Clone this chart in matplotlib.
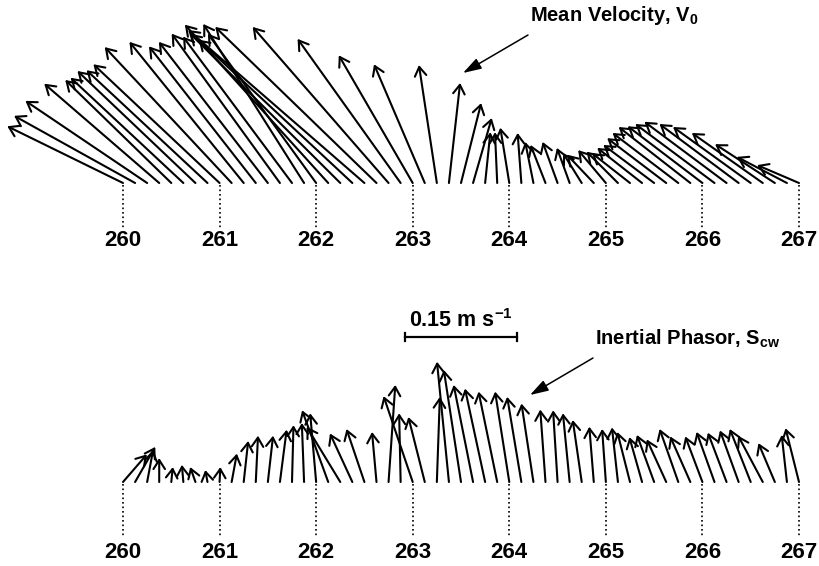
import numpy as np
import matplotlib
matplotlib.use("Agg")
import matplotlib.pyplot as plt
from matplotlib.patches import FancyArrowPatch

plt.rcParams["font.family"] = ["Liberation Sans", "DejaVu Sans"]
plt.rcParams["font.weight"] = "bold"
plt.rcParams["mathtext.fontset"] = "custom"
plt.rcParams["mathtext.rm"] = "Liberation Sans:bold"
plt.rcParams["mathtext.bf"] = "Liberation Sans:bold"
plt.rcParams["mathtext.it"] = "Liberation Sans:bold"

# Dados: dia do ano, um vetor a cada 3 h
days = 260.0 + 0.125 * np.arange(57)
day_ticks = [260, 261, 262, 263, 264, 265, 266, 267]

# Velocidade media V0 (m/s): componentes leste (u) e norte (v)
v0_u = [-0.155, -0.162, -0.163, -0.154, -0.142, -0.151, -0.158, -0.162, -0.169, -0.170,
        -0.153, -0.143, -0.146, -0.145, -0.146, -0.135, -0.145, -0.192, -0.201, -0.206,
        -0.236, -0.216, -0.182, -0.138, -0.099, -0.068, -0.024, 0.015, 0.027, 0.025,
        0.007, -0.003, -0.012, -0.005, -0.011, -0.020, -0.020, -0.017, -0.025, -0.036,
        -0.037, -0.042, -0.051, -0.060, -0.068, -0.079, -0.088, -0.096, -0.100, -0.106,
        -0.110, -0.106, -0.104, -0.095, -0.080, -0.067, -0.056]
v0_v = [0.076, 0.090, 0.110, 0.133, 0.138, 0.141, 0.150, 0.151, 0.159, 0.182,
        0.189, 0.183, 0.189, 0.200, 0.196, 0.213, 0.200, 0.212, 0.200, 0.192,
        0.205, 0.209, 0.209, 0.193, 0.171, 0.159, 0.158, 0.134, 0.107, 0.087,
        0.068, 0.068, 0.074, 0.067, 0.055, 0.051, 0.055, 0.047, 0.040, 0.038,
        0.044, 0.042, 0.040, 0.047, 0.051, 0.060, 0.067, 0.075, 0.076, 0.079,
        0.082, 0.079, 0.075, 0.067, 0.052, 0.035, 0.024]

# Fasor inercial S_cw (m/s)
scw_u = [0.032, 0.027, 0.008, 0.000, 0.002, -0.002, -0.007, -0.003, 0.001, 0.007,
         0.006, 0.003, 0.007, 0.009, 0.002, -0.003, -0.008, -0.035, -0.045, -0.030,
         -0.024, -0.006, 0.009, -0.002, -0.039, -0.022, 0.004, -0.016, -0.023, -0.026,
         -0.027, -0.025, -0.019, -0.019, -0.016, -0.007, -0.006, -0.009, -0.012, -0.006,
         -0.005, -0.008, -0.017, -0.017, -0.023, -0.026, -0.025, -0.027, -0.023, -0.024,
         -0.025, -0.025, -0.028, -0.033, -0.022, -0.007, -0.018]
scw_v = [0.037, 0.047, 0.043, 0.032, 0.020, 0.023, 0.020, 0.016, 0.020, 0.038,
         0.055, 0.062, 0.062, 0.070, 0.076, 0.079, 0.092, 0.096, 0.074, 0.065,
         0.071, 0.067, 0.130, 0.092, 0.115, 0.087, 0.114, 0.161, 0.150, 0.130,
         0.125, 0.121, 0.121, 0.114, 0.105, 0.097, 0.096, 0.092, 0.083, 0.074,
         0.071, 0.073, 0.067, 0.060, 0.063, 0.057, 0.071, 0.061, 0.061, 0.067,
         0.066, 0.069, 0.071, 0.062, 0.052, 0.063, 0.072]

scale_len = 0.15  # m/s

# Layout (pixels)
W, H = 820, 566
X260 = 123.0
PX_DAY = 96.57
PX_MS = 746.7
K = PX_MS / PX_DAY  # dias por m/s no eixo horizontal

fig = plt.figure(figsize=(W / 100, H / 100), dpi=100)


def make_axes(top, bottom, base):
    ax = fig.add_axes([0, 1 - bottom / H, 1, (bottom - top) / H])
    ax.set_xlim(260 - X260 / PX_DAY, 260 + (W - X260) / PX_DAY)
    ax.set_ylim(-(bottom - base) / PX_MS, (base - top) / PX_MS)
    ax.axis("off")
    return ax


def sticks(ax, u, v, tick_len, label_off):
    for t, ui, vi in zip(days, u, v):
        ax.add_patch(FancyArrowPatch((t, 0), (t + ui * K, vi),
                                     arrowstyle="->,head_length=0.5,head_width=0.32",
                                     mutation_scale=13, lw=1.5, color="black",
                                     shrinkA=0, shrinkB=0))
    for d in day_ticks:
        ax.plot([d, d], [-2 / PX_MS, -tick_len / PX_MS], color="black",
                lw=1.2, ls=(0, (1, 1.7)))
        ax.text(d, -label_off / PX_MS, str(d), ha="center", va="center",
                fontsize=16, fontweight="bold")


ax1 = make_axes(0, 262, 183)
sticks(ax1, v0_u, v0_v, 47, 58)

ax2 = make_axes(290, 566, 482)
sticks(ax2, scw_u, scw_v, 56, 70)

# barra de escala
x0 = 262.92
yb = (482 - 337) / PX_MS
x1 = x0 + scale_len * K
cap = 4 / PX_MS
ax2.plot([x0, x1], [yb, yb], color="black", lw=1.6)
ax2.plot([x0, x0], [yb - cap, yb + cap], color="black", lw=1.6)
ax2.plot([x1, x1], [yb - cap, yb + cap], color="black", lw=1.6)
ax2.text((x0 + x1) / 2, yb + 5 / PX_MS, r"0.15 m s$^{\mathbf{-1}}$", ha="center",
         va="bottom", fontsize=15.5, fontweight="bold")

# rotulos com setas
arrow_kw = dict(arrowstyle="-|>,head_length=0.8,head_width=0.25", color="black",
                lw=1.1, mutation_scale=14, shrinkA=0, shrinkB=0)
fig.text(530 / W, 1 - 21 / H, r"Mean Velocity, V$_{\mathbf{0}}$", ha="left",
         va="baseline", fontsize=14.5, fontweight="bold")
ax1.annotate("", xy=(463, H - 73), xycoords="figure pixels",
             xytext=(528, H - 35), textcoords="figure pixels", arrowprops=arrow_kw)

fig.text(595 / W, 1 - 345 / H, r"Inertial Phasor, S$_{\mathbf{cw}}$", ha="left",
         va="baseline", fontsize=14.5, fontweight="bold")
ax2.annotate("", xy=(530, H - 395), xycoords="figure pixels",
             xytext=(593, H - 358), textcoords="figure pixels", arrowprops=arrow_kw)

fig.savefig("out.png", dpi=100)
